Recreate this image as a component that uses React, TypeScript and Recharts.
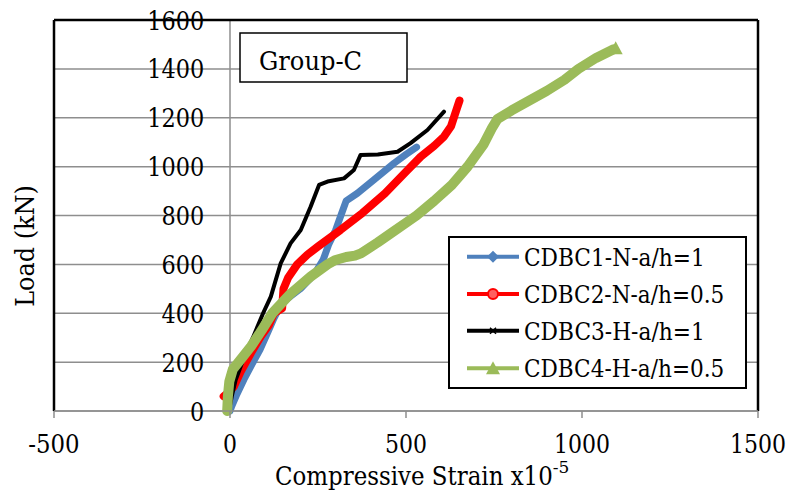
import { LineChart, Line, XAxis, YAxis, CartesianGrid, ReferenceLine } from "recharts";

// CDBC1-N-a/h=1
const blueStrain = [0, 5, 20, 40, 60, 85, 106, 125, 146, 172, 200, 240, 265, 280, 300, 315, 330, 362, 409, 466, 500, 530];
const blueLoad = [0, 20, 70, 130, 185, 250, 318, 380, 440, 470, 500, 560, 620, 680, 740, 800, 860, 891, 946, 1014, 1050, 1080];

// CDBC2-N-a/h=0.5
const redStrain = [-18, -5, 11, 30, 59, 87, 110, 125, 148, 152, 165, 191, 220, 250, 314, 376, 440, 504, 542, 580, 608, 628, 637, 645, 652];
const redLoad = [60, 75, 100, 160, 236, 304, 350, 400, 420, 500, 545, 600, 640, 673, 741, 810, 890, 985, 1041, 1085, 1123, 1165, 1205, 1240, 1270];

// CDBC3-H-a/h=1
const blackStrain = [-3, 5, 16, 40, 65, 94, 116, 144, 172, 201, 229, 253, 277, 324, 352, 371, 420, 476, 513, 561, 608];
const blackLoad = [0, 60, 127, 220, 300, 400, 468, 604, 686, 741, 836, 925, 939, 952, 986, 1048, 1050, 1061, 1096, 1150, 1225];

// CDBC4-H-a/h=0.5
const greenStrain = [-8, -6, -2, 8, 30, 60, 90, 120, 172, 229, 277, 300, 330, 355, 372, 420, 470, 530, 580, 630, 675, 720, 745, 760, 800, 850, 900, 950, 990, 1040, 1090];
const greenLoad = [0, 60, 120, 170, 210, 265, 330, 400, 480, 550, 600, 618, 630, 636, 645, 690, 740, 800, 860, 925, 1000, 1090, 1160, 1195, 1230, 1270, 1310, 1355, 1400, 1445, 1480];

const xTicks = [-500, 0, 500, 1000, 1500];
const yTicks = [0, 200, 400, 600, 800, 1000, 1200, 1400, 1600];

const seriesNames = ["CDBC1-N-a/h=1", "CDBC2-N-a/h=0.5", "CDBC3-H-a/h=1", "CDBC4-H-a/h=0.5"];
const seriesColors = ["#4f81bd", "#ff0000", "#000000", "#9bbb59"];
const seriesWidths = [7, 8, 4, 10];

// Liberation Serif is not present, so DejaVu Serif is squeezed to Times widths
const FONT = "DejaVu Serif";
const TIMES: Record<string, number> = {
  "-": 0.333, ".": 0.25, "/": 0.278, "=": 0.564, " ": 0.25, "(": 0.333, ")": 0.333,
  B: 0.667, C: 0.667, D: 0.722, G: 0.722, H: 0.722, L: 0.611, N: 0.722, S: 0.556,
  a: 0.444, d: 0.5, e: 0.444, h: 0.5, i: 0.278, k: 0.5, m: 0.778, n: 0.5, o: 0.5,
  p: 0.5, r: 0.333, s: 0.389, t: 0.278, u: 0.5, v: 0.5, x: 0.5,
};
const timesWidth = (s: string, size: number) =>
  [...s].reduce((w, ch) => w + (ch >= "0" && ch <= "9" ? 0.5 : TIMES[ch] ?? 0.5), 0) * size;

const W = 790;
const H = 492;
const M = { top: 20, right: 32, bottom: 51, left: 53 };
const X_MIN = -500;
const X_MAX = 1500;
const PLOT_W = W - M.left - M.right;
const ZERO_X = M.left + ((0 - X_MIN) / (X_MAX - X_MIN)) * PLOT_W;

const toPoints = (xs: number[], ys: number[]) => xs.map((x, i) => ({ x, y: ys[i] }));

const series = [
  toPoints(blueStrain, blueLoad),
  toPoints(redStrain, redLoad),
  toPoints(blackStrain, blackLoad),
  toPoints(greenStrain, greenLoad),
];

function SText({ x, y, s, size, w, anchor, transform }: any) {
  return (
    <text
      x={x}
      y={y}
      fontSize={size}
      fontFamily={FONT}
      fill="#000"
      textAnchor={anchor || "start"}
      textLength={w}
      lengthAdjust="spacingAndGlyphs"
      transform={transform}
    >
      {s}
    </text>
  );
}

const renderYTick = (props: any) => {
  const { y, payload, index } = props;
  const s = String(payload.value);
  return <SText key={`yt-${index}`} x={ZERO_X - 25} y={y + 9.5} s={s} size={26} w={timesWidth(s, 28.5)} anchor="end" />;
};

const renderXTick = (props: any) => {
  const { x, y, payload, index } = props;
  const s = String(payload.value);
  return <SText key={`xt-${index}`} x={x} y={y + 20} s={s} size={26} w={timesWidth(s, 28)} anchor="middle" />;
};

const greenEnd = (props: any) => {
  const { cx, cy, index } = props;
  if (index !== greenStrain.length - 1) return <g key={`gd-${index}`} />;
  return <polygon key={`gd-${index}`} points={`${cx + 2},${cy - 8} ${cx + 9},${cy + 5} ${cx - 5},${cy + 5}`} fill={seriesColors[3]} />;
};

function Marker({ i, cx, cy }: { i: number; cx: number; cy: number }) {
  const c = seriesColors[i];
  if (i === 0) return <polygon points={`${cx},${cy - 6} ${cx + 6},${cy} ${cx},${cy + 6} ${cx - 6},${cy}`} fill={c} />;
  if (i === 1) return <circle cx={cx} cy={cy} r={5} fill="#ff6060" stroke={c} strokeWidth={2} />;
  if (i === 2) return <path d={`M${cx - 3},${cy - 3} L${cx + 3},${cy + 3} M${cx - 3},${cy + 3} L${cx + 3},${cy - 3}`} stroke={c} strokeWidth={1.5} />;
  return <polygon points={`${cx},${cy - 7} ${cx + 7},${cy + 6} ${cx - 7},${cy + 6}`} fill={c} />;
}

export default function App() {
  const rowY = [256.7, 294, 330.7, 368.3];
  const xTitle = "Compressive Strain x10";
  return (
    <div style={{ position: "absolute", left: 0, top: 0, width: W, height: H, background: "#fff" }}>
      <LineChart width={W} height={H} margin={M}>
        <CartesianGrid vertical={false} stroke="#8e8e8e" strokeWidth={1.5} />
        <XAxis
          type="number"
          dataKey="x"
          domain={[X_MIN, X_MAX]}
          ticks={xTicks}
          allowDataOverflow
          height={30}
          interval={0}
          axisLine={{ stroke: "#8e8e8e", strokeWidth: 1.5 }}
          tickLine={{ stroke: "#8e8e8e", strokeWidth: 1.5 }}
          tickSize={7}
          tickMargin={15}
          tick={renderXTick}
        />
        <YAxis
          type="number"
          dataKey="y"
          domain={[0, 1600]}
          ticks={yTicks}
          width={1}
          interval={0}
          axisLine={false}
          tickLine={false}
          tick={renderYTick}
        />
        <ReferenceLine x={0} stroke="#8e8e8e" strokeWidth={1.5} />
        {series.map((d, i) => (
          <Line
            key={seriesNames[i]}
            data={d}
            dataKey="y"
            name={seriesNames[i]}
            type="linear"
            stroke={seriesColors[i]}
            strokeWidth={seriesWidths[i]}
            strokeLinejoin="round"
            strokeLinecap="round"
            dot={i === 3 ? greenEnd : false}
            activeDot={false}
            isAnimationActive={false}
          />
        ))}
        <ReferenceLine y={1600} stroke="#000" strokeWidth={2.5} />
        <ReferenceLine x={X_MIN} stroke="#000" strokeWidth={2.5} />
        <ReferenceLine x={X_MAX} stroke="#000" strokeWidth={2.5} />
      </LineChart>
      <svg width={W} height={H} style={{ position: "absolute", left: 0, top: 0, pointerEvents: "none" }}>
        <SText x={34} y={246} s="Load (kN)" size={26} w={timesWidth("Load (kN)", 29)} anchor="middle" transform="rotate(-90 34 246)" />
        <text x={275} y={485} fontSize={26} fontFamily={FONT} fill="#000">
          <tspan textLength={timesWidth(xTitle, 28.9)} lengthAdjust="spacingAndGlyphs">
            {xTitle}
          </tspan>
          <tspan dy={-12} fontSize={17}>
            -5
          </tspan>
        </text>
        <rect x={240} y={33} width={167} height={49} fill="#fff" stroke="#000" strokeWidth={1.5} />
        <SText x={259} y={70} s="Group-C" size={26} w={timesWidth("Group-C", 29)} />
        <rect x={449} y={237} width={297} height={151} fill="#fff" stroke="#000" strokeWidth={2} />
        {seriesNames.map((n, i) => (
          <g key={n}>
            <line x1={467} x2={519} y1={rowY[i]} y2={rowY[i]} stroke={seriesColors[i]} strokeWidth={4} />
            <Marker i={i} cx={493} cy={rowY[i]} />
            <SText x={524} y={rowY[i] + 9} s={n} size={25} w={timesWidth(n, 26.2)} />
          </g>
        ))}
      </svg>
    </div>
  );
}
